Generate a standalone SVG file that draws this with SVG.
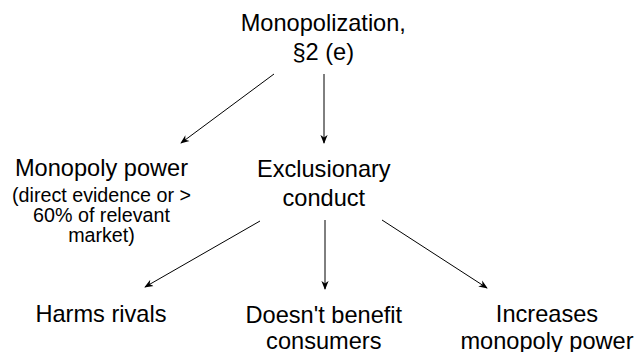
<svg xmlns="http://www.w3.org/2000/svg" width="638" height="352" viewBox="0 0 638 352">
<style>
text{font-family:"Liberation Sans",Arial,sans-serif;fill:#000;text-anchor:middle}
.big{font-size:23.6px}
.small{font-size:19.7px}
.edge{stroke:#000;stroke-width:1;fill:none;marker-end:url(#arr)}
</style>
<defs>
<marker id="arr" viewBox="0 0 10 10" refX="9" refY="5" markerWidth="9" markerHeight="9" markerUnits="userSpaceOnUse" orient="auto">
<path d="M0,1 L10,5 L0,9 L3,5 Z" fill="#000"/>
</marker>
</defs>
<rect width="638" height="352" fill="#fff"/>
<g id="connectors">
<path class="edge" d="M274,74 L181,143"/>
<path class="edge" d="M324,74 L324,143"/>
<path class="edge" d="M260,221 L145,287"/>
<path class="edge" d="M325,220 L325,289"/>
<path class="edge" d="M382,220 L487,288"/>
</g>
<g id="monopolization">
<text class="big" x="323.3" y="31">Monopolization,</text>
<text class="big" x="323.3" y="59.5">§2 (e)</text>
</g>
<g id="monopoly-power">
<text class="big" x="101.5" y="176">Monopoly power</text>
<text class="small" x="101.5" y="201.5">(direct evidence or &gt;</text>
<text class="small" x="101.5" y="221.5">60% of relevant</text>
<text class="small" x="101.5" y="241.5">market)</text>
</g>
<g id="exclusionary-conduct">
<text class="big" x="323.8" y="177.3">Exclusionary</text>
<text class="big" x="323.8" y="205.5">conduct</text>
</g>
<g id="harms-rivals">
<text class="big" x="101" y="321.5">Harms rivals</text>
</g>
<g id="doesnt-benefit">
<text class="big" x="323.8" y="322.5">Doesn't benefit</text>
<text class="big" x="323.8" y="349">consumers</text>
</g>
<g id="increases-power">
<text class="big" x="547" y="322">Increases</text>
<text class="big" x="547" y="348.5">monopoly power</text>
</g>
</svg>
